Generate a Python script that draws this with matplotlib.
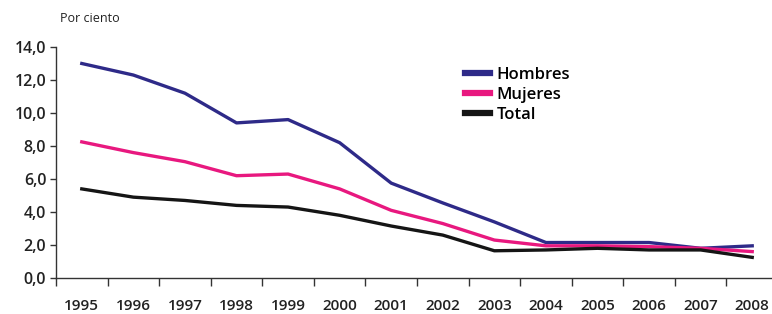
import numpy as np
import matplotlib
matplotlib.use("Agg")
import matplotlib.pyplot as plt
from matplotlib.ticker import FixedLocator, FuncFormatter

# Datos (por ciento)
anios = ["1995", "1996", "1997", "1998", "1999", "2000", "2001",
         "2002", "2003", "2004", "2005", "2006", "2007", "2008"]
hombres = [13.0, 12.3, 11.2, 9.4, 9.6, 8.2, 5.75, 4.55, 3.4, 2.15, 2.15, 2.15, 1.8, 1.95]
mujeres = [8.25, 7.6, 7.05, 6.2, 6.3, 5.4, 4.1, 3.3, 2.3, 1.95, 1.95, 1.9, 1.8, 1.6]
total = [5.4, 4.9, 4.7, 4.4, 4.3, 3.8, 3.15, 2.6, 1.65, 1.7, 1.8, 1.7, 1.7, 1.25]
y_ticks = [0, 2, 4, 6, 8, 10, 12, 14]

COR_H = "#2E2A88"
COR_M = "#E8187F"
COR_T = "#151515"

plt.rcParams["font.family"] = ["Open Sans", "DejaVu Sans"]

fig = plt.figure(figsize=(7.72, 3.14), dpi=100)
ax = fig.add_axes([56 / 772, 1 - 278 / 314, 722 / 772, 231 / 314])

x = np.arange(len(anios))
ax.plot(x, hombres, color=COR_H, lw=2.4, label="Hombres", solid_joinstyle="round")
ax.plot(x, mujeres, color=COR_M, lw=2.4, label="Mujeres", solid_joinstyle="round")
ax.plot(x, total, color=COR_T, lw=2.4, label="Total", solid_joinstyle="round")

ax.set_xlim(-0.5, len(anios) - 0.5)
ax.set_ylim(0, 14)
ax.spines["top"].set_visible(False)
ax.spines["right"].set_visible(False)
for s in ("left", "bottom"):
    ax.spines[s].set_color("#333333")
    ax.spines[s].set_linewidth(1.0)

# Eje y: etiquetas con coma decimal
ax.yaxis.set_major_locator(FixedLocator(y_ticks))
ax.yaxis.set_major_formatter(FuncFormatter(lambda v, p: f"{v:.1f}".replace(".", ",")))
ax.tick_params(axis="y", direction="out", length=4, width=1, color="#333333",
               labelsize=11.5, labelcolor="#222222", pad=3)

# Eje x: marcas entre categorías, etiquetas centradas
ax.set_xticks(x)
ax.set_xticklabels(anios)
ax.set_xticks(np.arange(-0.5, len(anios), 1), minor=True)
ax.tick_params(axis="x", which="major", length=0, labelsize=11,
               labelcolor="#222222", pad=15)
ax.tick_params(axis="x", which="minor", direction="out", length=6, width=1,
               color="#333333")
for lbl in ax.get_xticklabels() + ax.get_yticklabels():
    lbl.set_fontweight("semibold")

fig.text(60 / 772, 1 - 19 / 314, "Por ciento", fontsize=9, color="#222222",
         ha="left", va="center")

leg = ax.legend(loc="upper left", bbox_to_anchor=(450 / 772, 1 - 52 / 314),
                bbox_transform=fig.transFigure, frameon=False,
                handlelength=1.5, handletextpad=0.4, labelspacing=0.25,
                prop={"size": 12, "weight": "semibold"})
for h in leg.get_lines():
    h.set_linewidth(4.5)

fig.savefig("out.png", dpi=100)
